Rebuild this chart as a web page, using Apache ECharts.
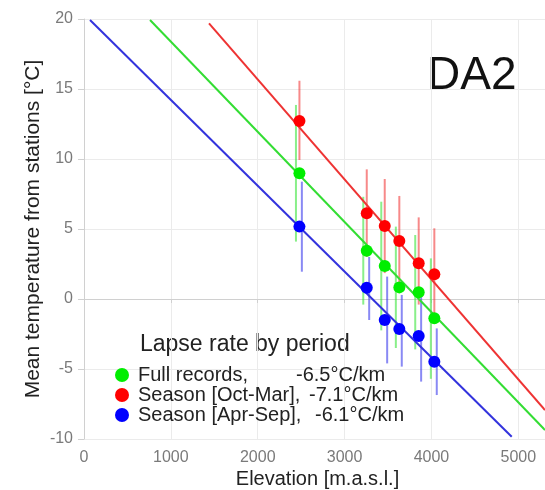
<!DOCTYPE html>
<html>
<head>
<meta charset="utf-8">
<script src="https://cdn.jsdelivr.net/npm/echarts@6/dist/echarts.min.js"></script>
<style>html,body{margin:0;padding:0;background:#fff}#c{width:545px;height:490px}</style>
</head>
<body>
<div id="c"></div>
<script>
// ---- data ----
const elevation = [2480, 3255, 3462, 3630, 3853, 4033];

const fullMean = [8.98, 3.45, 2.36, 0.83, 0.48, -1.38];
const fullLow  = [4.1, -0.4, -2.24, -3.5, -3.6, -5.7];
const fullHigh = [13.86, 7.3, 6.95, 5.17, 4.57, 2.9];

const winterMean = [12.71, 6.12, 5.21, 4.14, 2.55, 1.76];
const winterLow  = [9.93, 3.0, 1.85, 0.9, -0.4, -1.5];
const winterHigh = [15.59, 9.26, 8.57, 7.36, 5.83, 5.05];

const summerMean = [5.17, 0.81, -1.5, -2.14, -2.64, -4.48];
const summerLow  = [1.95, -1.5, -4.6, -4.83, -5.9, -6.86];
const summerHigh = [8.38, 3.0, 1.6, 0.29, 0.66, -2.1];

// regression line end points [elevation, temperature]
const fullLine   = [[760, 19.93], [5307, -9.36]];
const winterLine = [[1439, 19.69], [5307, -7.93]];
const summerLine = [[69, 19.93], [4924, -9.84]];

const seriesNames = ['Full records', 'Season [Oct-Mar]', 'Season [Apr-Sep]'];
const legendLabels = ['Full records,', 'Season [Oct-Mar],', 'Season [Apr-Sep],'];
const lapseRates = ['-6.5°C/km', '-7.1°C/km', '-6.1°C/km'];

const xTicks = [0, 1000, 2000, 3000, 4000, 5000];
const yTicks = [-10, -5, 0, 5, 10, 15, 20];

// ---- styling ----
const FONT = 'Liberation Sans, Arial, Helvetica, sans-serif';
const pointColors = ['#00ee00', '#ff0000', '#0000ff'];
const lineColors = ['#33dd33', '#ee3333', '#3333dd'];
const barColors = ['rgba(40,225,40,0.55)', 'rgba(240,40,40,0.55)', 'rgba(40,40,235,0.55)'];
const dodge = [-40, 0, 28];
const valueStart = [300, 313, 319]; // px where lapse rate text starts
const textStart = 142;

const means = [fullMean, winterMean, summerMean];
const lows = [fullLow, winterLow, summerLow];
const highs = [fullHigh, winterHigh, summerHigh];
const lines = [fullLine, winterLine, summerLine];

const chart = echarts.init(document.getElementById('c'), null, {renderer: 'canvas'});

const series = [];
// error bars
for (let s = 0; s < 3; s++) {
  const col = barColors[s];
  series.push({
    type: 'custom',
    name: 'eb' + s,
    z: 1,
    encode: {x: 0, y: [1, 2]},
    data: elevation.map((e, i) => [e + dodge[s], lows[s][i], highs[s][i]]),
    renderItem: function (params, api) {
      const p1 = api.coord([api.value(0), api.value(1)]);
      const p2 = api.coord([api.value(0), api.value(2)]);
      return {type: 'line', shape: {x1: p1[0], y1: p1[1], x2: p2[0], y2: p2[1]},
              style: {stroke: col, lineWidth: 2}};
    }
  });
}
// regression lines
for (let s = 0; s < 3; s++) {
  series.push({
    type: 'line', name: 'fit' + s, z: 2,
    data: lines[s], showSymbol: false, symbol: 'none',
    lineStyle: {color: lineColors[s], width: 2}, silent: true, animation: false
  });
}
// points
for (let s = 0; s < 3; s++) {
  series.push({
    type: 'scatter', name: seriesNames[s], z: 3,
    data: elevation.map((e, i) => [e, means[s][i]]),
    symbolSize: 12,
    itemStyle: {color: pointColors[s], opacity: 1}
  });
}

const rich = {};
for (let s = 0; s < 3; s++) {
  rich['a' + s] = {width: valueStart[s] - textStart, fontSize: 20, fontFamily: FONT, color: '#222', lineHeight: 19};
  rich['b' + s] = {fontSize: 20, fontFamily: FONT, color: '#222', lineHeight: 19};
}

const option = {
  animation: false,
  backgroundColor: '#fff',
  grid: {left: 84, right: 0, top: 19, bottom: 51, containLabel: false, outerBoundsMode: 'none'},
  xAxis: {
    type: 'value', min: 0, max: 5307, interval: 1000,
    name: 'Elevation [m.a.s.l.]', nameLocation: 'middle', nameGap: 30, nameMoveOverlap: false,
    nameTextStyle: {fontFamily: FONT, fontSize: 20, color: '#222', padding: [0, 0, 0, 6]},
    axisLine: {show: true, lineStyle: {color: '#d0d0d0', width: 1}},
    axisTick: {show: true, length: 4, lineStyle: {color: '#d0d0d0'}},
    axisLabel: {fontFamily: FONT, fontSize: 16, color: '#7a7a7a', margin: 11, showMaxLabel: false,
      formatter: v => (xTicks.indexOf(v) >= 0 ? String(v) : '')},
    splitLine: {show: true, lineStyle: {color: '#ebebeb', width: 1}}
  },
  yAxis: {
    type: 'value', min: -10, max: 20, interval: 5,
    name: 'Mean temperature from stations [°C]', nameLocation: 'middle', nameGap: 40, nameMoveOverlap: false,
    nameTextStyle: {fontFamily: FONT, fontSize: 21, color: '#222'},
    axisLine: {show: true, lineStyle: {color: '#d0d0d0', width: 1}},
    axisTick: {show: true, length: 6, lineStyle: {color: '#d0d0d0'}},
    axisLabel: {fontFamily: FONT, fontSize: 16, color: '#7a7a7a', margin: 11,
      formatter: v => (yTicks.indexOf(v) >= 0 ? String(v) : '')},
    splitLine: {show: true, lineStyle: {color: '#ebebeb', width: 1}}
  },
  legend: {
    data: seriesNames,
    orient: 'vertical', left: 115, top: 365, padding: 0, itemGap: 0,
    icon: 'circle', itemWidth: 22, itemHeight: 14,
    selectedMode: false,
    textStyle: {fontFamily: FONT, fontSize: 20, color: '#222', rich: rich, padding: 0, lineHeight: 19},
    formatter: function (name) {
      const i = seriesNames.indexOf(name);
      return '{a' + i + '|' + legendLabels[i] + '}{b' + i + '|' + lapseRates[i] + '}';
    }
  },
  graphic: [
    {type: 'text', left: 140, top: 333, silent: true,
     style: {text: 'Lapse rate by period', font: '23px ' + FONT, fill: '#222'}},
    {type: 'text', left: 427, top: 53, silent: true,
     style: {text: 'DA2', font: '46px ' + FONT, fill: '#111'}}
  ],
  series: series
};
chart.setOption(option);
</script>
</body>
</html>
